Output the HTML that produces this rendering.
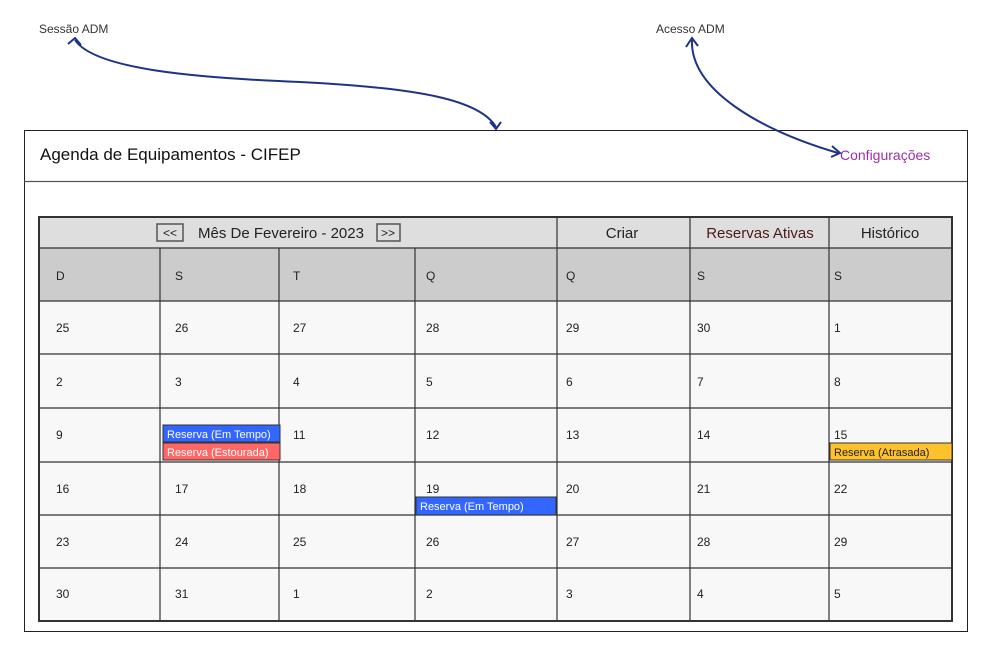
<!DOCTYPE html>
<html><head><meta charset="utf-8"><style>
html,body{margin:0;padding:0;background:#fff;}
svg{display:block;}
.n{font-family:"Liberation Sans",sans-serif;font-size:12px;fill:#222;}
.h{font-family:"Liberation Sans",sans-serif;font-size:15px;fill:#222;}
.r{font-family:"Liberation Sans",sans-serif;font-size:11px;}
</style></head><body>
<svg width="1000" height="657" viewBox="0 0 1000 657" xmlns="http://www.w3.org/2000/svg">
<rect width="1000" height="657" fill="#fff"/>
<text x="39" y="33" font-family="Liberation Sans,sans-serif" font-size="12" fill="#333">Sessão ADM</text>
<text x="656" y="33" font-family="Liberation Sans,sans-serif" font-size="12" fill="#333">Acesso ADM</text>
<rect x="24.5" y="130.5" width="943" height="501" fill="#fff" stroke="#222"/>
<line x1="24" y1="181.5" x2="967" y2="181.5" stroke="#555" stroke-width="1.2"/>
<text x="40" y="160" font-family="Liberation Sans,sans-serif" font-size="17" fill="#111">Agenda de Equipamentos - CIFEP</text>
<text x="840" y="160" font-family="Liberation Sans,sans-serif" font-size="14" fill="#9b2fa8">Configurações</text>
<!-- arrows -->
<g fill="none" stroke="#1f3384" stroke-width="2">
<path d="M75 40 C 95 70, 200 78, 300 82 C 420 88, 480 100, 496 127"/>
<path d="M68 44 L75 38 L81 45"/>
<path d="M490 122 L496 129 L501 122"/>
<path d="M692 40 C 690 90, 760 130, 838 153"/>
<path d="M686 47 L692 38 L698 46"/>
<path d="M832 146 L840 153 L831 157"/>
</g>
<!-- table -->
<rect x="39" y="217" width="913" height="31" fill="#dedede"/>
<rect x="39" y="248" width="913" height="53" fill="#cccccc"/>
<rect x="39" y="301" width="913" height="320" fill="#f8f8f8"/>
<g stroke="#333" stroke-width="1.2">
<line x1="39" y1="248" x2="952" y2="248"/>
<line x1="39" y1="301" x2="952" y2="301"/>
<line x1="39" y1="354" x2="952" y2="354"/>
<line x1="39" y1="408" x2="952" y2="408"/>
<line x1="39" y1="462" x2="952" y2="462"/>
<line x1="39" y1="515" x2="952" y2="515"/>
<line x1="39" y1="568" x2="952" y2="568"/>
<line x1="160" y1="248" x2="160" y2="621"/>
<line x1="279" y1="248" x2="279" y2="621"/>
<line x1="415" y1="248" x2="415" y2="621"/>
<line x1="557" y1="217" x2="557" y2="621"/>
<line x1="690" y1="217" x2="690" y2="621"/>
<line x1="829" y1="217" x2="829" y2="621"/>
</g>
<rect x="39" y="217" width="913" height="404" fill="none" stroke="#333" stroke-width="2"/>
<rect x="157" y="224" width="26" height="17" fill="none" stroke="#555" stroke-width="1.5"/>
<text x="170" y="237" text-anchor="middle" class="n" font-size="11">&lt;&lt;</text>
<text x="281" y="238" text-anchor="middle" class="h" font-size="14">Mês De Fevereiro - 2023</text>
<rect x="377" y="224" width="23" height="17" fill="none" stroke="#555" stroke-width="1.5"/>
<text x="388" y="237" text-anchor="middle" class="n" font-size="11">&gt;&gt;</text>
<text x="622" y="238" text-anchor="middle" class="h" font-size="14">Criar</text>
<text x="760" y="238" text-anchor="middle" class="h" font-size="14" fill="#4a1a1a" style="fill:#4a1a1a">Reservas Ativas</text>
<text x="890" y="238" text-anchor="middle" class="h" font-size="14">Histórico</text>
<g class="n" font-size="11">
<text x="56" y="280">D</text><text x="175" y="280">S</text><text x="293" y="280">T</text><text x="426" y="280">Q</text><text x="566" y="280">Q</text><text x="697" y="280">S</text><text x="834" y="280">S</text>
</g>
<g class="n">
<text x="56" y="332">25</text><text x="175" y="332">26</text><text x="293" y="332">27</text><text x="426" y="332">28</text><text x="566" y="332">29</text><text x="697" y="332">30</text><text x="834" y="332">1</text>
<text x="56" y="386">2</text><text x="175" y="386">3</text><text x="293" y="386">4</text><text x="426" y="386">5</text><text x="566" y="386">6</text><text x="697" y="386">7</text><text x="834" y="386">8</text>
<text x="56" y="439">9</text><text x="293" y="439">11</text><text x="426" y="439">12</text><text x="566" y="439">13</text><text x="697" y="439">14</text><text x="834" y="439">15</text>
<text x="56" y="493">16</text><text x="175" y="493">17</text><text x="293" y="493">18</text><text x="426" y="493">19</text><text x="566" y="493">20</text><text x="697" y="493">21</text><text x="834" y="493">22</text>
<text x="56" y="546">23</text><text x="175" y="546">24</text><text x="293" y="546">25</text><text x="426" y="546">26</text><text x="566" y="546">27</text><text x="697" y="546">28</text><text x="834" y="546">29</text>
<text x="56" y="598">30</text><text x="175" y="598">31</text><text x="293" y="598">1</text><text x="426" y="598">2</text><text x="566" y="598">3</text><text x="697" y="598">4</text><text x="834" y="598">5</text>
</g>
<rect x="163" y="425" width="117" height="17" fill="#3366ff" stroke="#333"/>
<text x="167" y="438" class="r" fill="#fff">Reserva (Em Tempo)</text>
<rect x="163" y="443" width="117" height="17" fill="#ff6666" stroke="#333"/>
<text x="167" y="456" class="r" fill="#fff">Reserva (Estourada)</text>
<rect x="830" y="443" width="122" height="17" fill="#ffc22b" stroke="#333"/>
<text x="834" y="456" class="r" fill="#222">Reserva (Atrasada)</text>
<rect x="416" y="497" width="140" height="18" fill="#3366ff" stroke="#333"/>
<text x="420" y="510" class="r" fill="#fff">Reserva (Em Tempo)</text>
</svg>
</body></html>
